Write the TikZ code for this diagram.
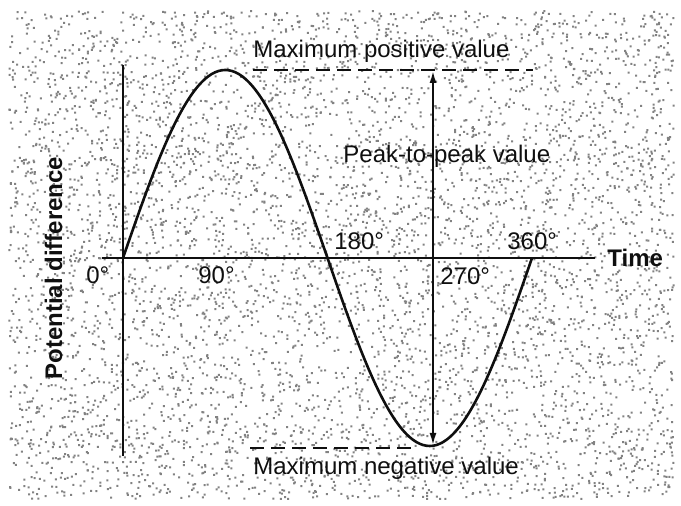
\documentclass[tikz,border=0pt]{standalone}
\usepackage{fontspec}
\setmainfont{Liberation Sans}
\usepackage{xcolor}
\usepackage{tikz}
\usetikzlibrary{arrows.meta, positioning}
\definecolor{stipplegray}{RGB}{130, 130, 130}
\definecolor{inkblack}{RGB}{15, 15, 15}

\begin{document}
\begin{tikzpicture}[
    x=0.5pt, y=-0.5pt,
    axis/.style={draw=inkblack, line width=1.3pt},
    wave/.style={draw=inkblack, line width=1.3pt, smooth},
    limitline/.style={draw=inkblack, line width=0.9pt, dash pattern=on 7pt off 3.5pt},
    label/.style={text=inkblack, inner sep=0pt, anchor=base west,
                  font=\fontsize{12}{14}\selectfont},
    boldlabel/.style={label, font=\fontsize{12}{14}\selectfont\bfseries}
]
    \useasboundingbox (0,0) rectangle (681,506);
    % stippled paper, in chunks
    \pgfmathsetseed{17}
    \foreach \k in {1,...,6} {
        \fill[stipplegray] \foreach \i in {1,...,1000} {
            ({8+665*rnd},{10+488*rnd}) rectangle ++(2,2)
        };
    }

    % axes
    \coordinate (vtop) at (123,65);
    \coordinate (vbot) at (123,456);
    \coordinate (hleft) at (102,258);
    \coordinate (hright) at (595,258);
    \draw[axis] (vtop) -- (vbot);
    \draw[axis] (hleft) -- (hright);

    % one cycle
    \draw[wave] plot[domain=0:360, samples=121] ({123+\x/360*409}, {258-188*sin(\x)});

    % limits
    \coordinate (maxpos) at (433,71);
    \coordinate (maxneg) at (433,445);
    \coordinate (posleft) at (253,70);
    \coordinate (posright) at (533,70);
    \coordinate (negleft) at (250,448);
    \coordinate (negright) at (415,448);
    \draw[limitline] (posleft) -- (posright);
    \draw[limitline] (negleft) -- (negright);
    \draw[inkblack, line width=0.9pt, {Latex[length=6pt,width=3.5pt]}-{Latex[length=6pt,width=3.5pt]}]
        (maxpos) -- (maxneg);

    \node[label] (postext) at (253,58) {Maximum positive value};
    \node[label] (negtext) at (253,475) {Maximum negative value};
    \node[label] (p2p) at (343,163) {Peak-to-peak value};

    \node[label] (deg0) at (86,284) {0°};
    \node[label] (deg90) at (198,284) {90°};
    \node[label] (deg180) at (334,250) {180°};
    \node[label] (deg270) at (440,285) {270°};
    \node[label] (deg360) at (507,250) {360°};

    \node[boldlabel] (time) at (607,267) {Time};
    \node[boldlabel, rotate=90] (pd) at (62,380) {Potential difference};
\end{tikzpicture}
\end{document}
